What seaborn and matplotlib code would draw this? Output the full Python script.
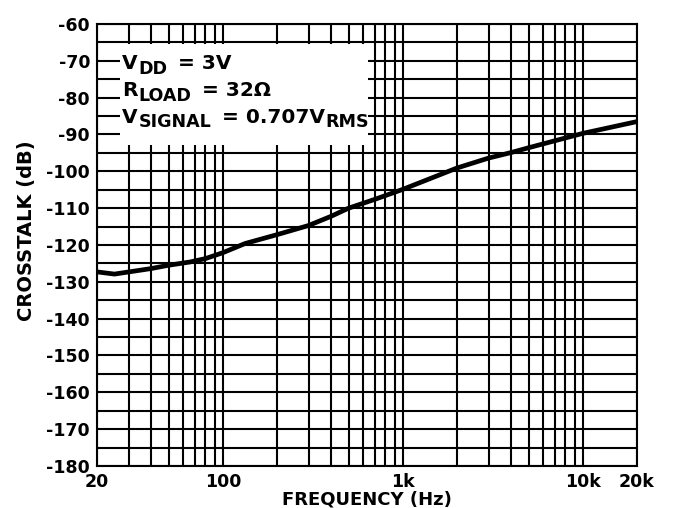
import numpy as np
import pandas as pd
import matplotlib
matplotlib.use("Agg")
import matplotlib.pyplot as plt
from matplotlib.patches import Rectangle
from matplotlib.ticker import FixedLocator, NullFormatter
from matplotlib.transforms import IdentityTransform
import seaborn as sns

# Crosstalk vs. frequency
freq_hz = [20, 25, 40, 50, 66, 80, 100, 133, 200, 300, 400, 500, 700,
           1000, 2000, 3000, 4000, 5000, 7000, 10000, 20000]
crosstalk_db = [-127.3, -127.9, -126.4, -125.5, -124.6, -123.7, -122.1,
                -119.6, -117.2, -114.7, -112.2, -110.0, -107.6, -104.9,
                -99.1, -96.4, -94.9, -93.6, -91.7, -89.7, -86.5]

x_ticks = [20, 100, 1000, 10000, 20000]
x_tick_labels = ["20", "100", "1k", "10k", "20k"]
x_minor = [m * 10 ** e for e in range(1, 5) for m in range(2, 10)
           if 20 <= m * 10 ** e <= 20000]
y_ticks = list(range(-180, -59, 10))
y_minor = list(range(-175, -60, 10))

# operating conditions: (text, is_subscript, gap_before_px)
conditions = [
    [("V", False, 0), ("DD", True, 0), ("= 3V", False, 10)],
    [("R", False, 0), ("LOAD", True, 0), ("= 32Ω", False, 10)],
    [("V", False, 0), ("SIGNAL", True, 0), ("= 0.707V", False, 10),
     ("RMS", True, 0)],
]

sns.set_style("white")
plt.rcParams["font.family"] = ["DejaVu Sans"]
plt.rcParams["font.weight"] = "bold"
plt.rcParams["axes.unicode_minus"] = False
for key in ("text.color", "axes.labelcolor", "xtick.color", "ytick.color"):
    plt.rcParams[key] = "black"

fig = plt.figure(figsize=(6.75, 5.08), dpi=100)
ax = fig.add_axes([0.1437, 0.0827, 0.8, 0.8701])

df = pd.DataFrame({"freq": freq_hz, "xt": crosstalk_db})
sns.lineplot(data=df, x="freq", y="xt", color="black", linewidth=3.4,
             ax=ax, zorder=4, estimator=None, sort=True)

ax.set_xscale("log")
ax.set_xlim(20, 20000)
ax.set_ylim(-180, -60)

ax.xaxis.set_major_locator(FixedLocator(x_ticks))
ax.set_xticklabels(x_tick_labels)
ax.xaxis.set_minor_locator(FixedLocator(x_minor))
ax.xaxis.set_minor_formatter(NullFormatter())
ax.yaxis.set_major_locator(FixedLocator(y_ticks))
ax.set_yticklabels([str(v) for v in y_ticks])
ax.yaxis.set_minor_locator(FixedLocator(y_minor))

ax.grid(which="both", color="black", linewidth=1.5, zorder=1)
ax.set_axisbelow(True)
for sp in ax.spines.values():
    sp.set_color("black")
    sp.set_linewidth(1.5)

ax.tick_params(which="both", length=0)
ax.tick_params(axis="y", pad=5, labelsize=12.5)
ax.tick_params(axis="x", pad=5, labelsize=12.5)
for lbl in ax.get_xticklabels() + ax.get_yticklabels():
    lbl.set_fontweight("bold")

ax.set_xlabel("FREQUENCY (Hz)", fontsize=13, fontweight="bold", labelpad=0)
ax.set_ylabel("CROSSTALK (dB)", fontsize=14, fontweight="bold")
ax.yaxis.set_label_coords(-0.113, 0.532)

# white panel behind the operating conditions
ax.add_patch(Rectangle((0.043, 0.726), 0.459, 0.229, transform=ax.transAxes,
                       facecolor="white", edgecolor="none", zorder=2))

renderer = fig.canvas.get_renderer()
base_size = 14.5
sub_scale = 0.87
sub_drop = 4.5
for i, parts in enumerate(conditions):
    x0, y0 = ax.transAxes.transform((0.047, 0.898 - i * 0.061))
    xcur = x0
    for text, sub, gap in parts:
        xcur += gap
        t = ax.text(xcur, y0 - (sub_drop if sub else 0), text,
                    transform=IdentityTransform(),
                    fontsize=base_size * (sub_scale if sub else 1.0),
                    fontweight="bold", ha="left", va="baseline", zorder=3)
        xcur = t.get_window_extent(renderer).x1 + 0.5

fig.savefig("out.png", dpi=100)
